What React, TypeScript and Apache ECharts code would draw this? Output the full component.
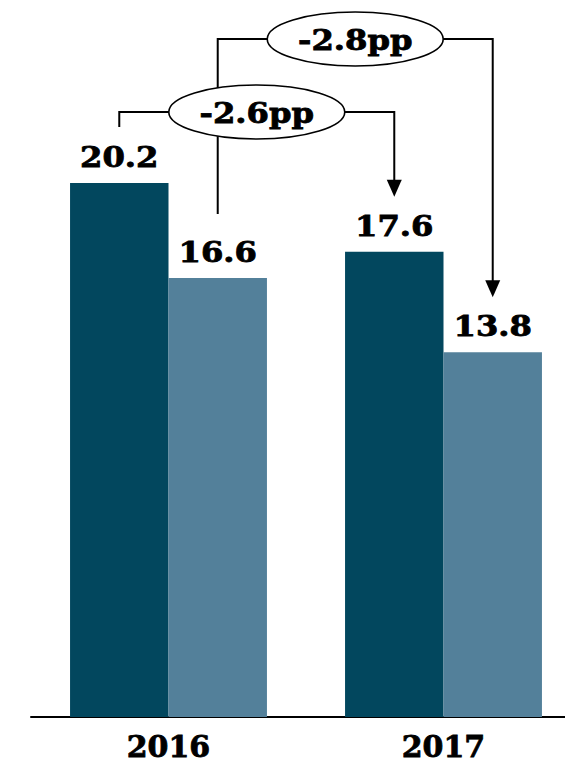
import React, { useEffect, useRef } from "react";
import * as echarts from "echarts";

// Years on the x axis and the two bar series
const years = ["2016", "2017"];
const darkValues = [20.2, 17.6];
const lightValues = [16.6, 13.8];

const DARK = "#02475e";
const LIGHT = "#53809a";
const FONT = "DejaVu Serif";

// Year-on-year change brackets: which series they join and where they run
const brackets = [
  { series: 0, level: 112, startGap: 56, endGap: 55 },
  { series: 1, level: 39, startGap: 64, endGap: 55 },
];
const seriesValues = [darkValues, lightValues];

export default function App() {
  const ref = useRef<HTMLDivElement>(null);

  useEffect(() => {
    if (!ref.current) return;
    const chart = echarts.init(ref.current, undefined, { renderer: "svg" });

    chart.setOption({
      animation: false,
      backgroundColor: "#fff",
      grid: {
        left: 31,
        width: 550,
        top: 56,
        bottom: 52,
        outerBoundsMode: "none",
        containLabel: false,
      },
      xAxis: {
        type: "category",
        data: years,
        axisLine: { lineStyle: { color: "#000", width: 2 } },
        axisTick: { show: false },
        axisLabel: {
          margin: 14,
          fontFamily: FONT,
          fontWeight: "bold",
          fontSize: 30,
          color: "#000",
          textBorderColor: "#000",
          textBorderWidth: 0.8,
        },
      },
      yAxis: { type: "value", min: 0, max: 25, show: false },
      series: [
        {
          type: "bar",
          data: darkValues,
          itemStyle: { color: DARK },
          barGap: "0%",
          barCategoryGap: "28.4%",
        },
        {
          type: "bar",
          data: lightValues,
          itemStyle: { color: LIGHT },
          barGap: "0%",
          barCategoryGap: "28.4%",
        },
      ],
    });

    // Value labels and change brackets are placed from the laid-out bars
    const model: any = (chart as any).getModel();
    const barBox = (s: number, i: number) => {
      const l = model.getSeriesByIndex(s).getData().getItemLayout(i);
      return { cx: l.x + l.width / 2, top: Math.min(l.y, l.y + l.height) };
    };

    const boldText = (x: number, y: number, text: string, z: number) => ({
      type: "text",
      x,
      y,
      scaleX: 1.15,
      style: {
        text,
        fontFamily: FONT,
        fontWeight: "bold",
        fontSize: 28,
        fill: "#000",
        stroke: "#000",
        lineWidth: 0.8,
        align: "center",
        verticalAlign: "middle",
      },
      z,
    });

    const valueLabels: any[] = [];
    seriesValues.forEach((vals, s) => {
      vals.forEach((v, i) => {
        const b = barBox(s, i);
        valueLabels.push(boldText(b.cx, b.top - 25.5, v.toFixed(1), 5));
      });
    });

    const lines: any[] = [];
    const tops: any[] = [];
    brackets.forEach((b) => {
      const vals = seriesValues[b.series];
      const a = barBox(b.series, 0);
      const c = barBox(b.series, 1);
      const tipY = c.top - b.endGap;
      const midX = (a.cx + c.cx) / 2;
      const diff = (vals[1] - vals[0]).toFixed(1);
      lines.push({
        type: "polyline",
        shape: {
          points: [
            [a.cx, a.top - b.startGap],
            [a.cx, b.level],
            [c.cx, b.level],
            [c.cx, tipY - 12],
          ],
        },
        style: { stroke: "#000", lineWidth: 2, fill: null },
        z: 10,
      });
      lines.push({
        type: "polygon",
        shape: {
          points: [
            [c.cx - 7.5, tipY - 17],
            [c.cx + 7.5, tipY - 17],
            [c.cx, tipY],
          ],
        },
        style: { fill: "#000" },
        z: 10,
      });
      tops.push({
        type: "ellipse",
        shape: { cx: midX, cy: b.level, rx: 88, ry: 27 },
        style: { fill: "#fff", stroke: "#000", lineWidth: 1.6 },
        z: 20,
      });
      tops.push(boldText(midX, b.level + 1, `${diff}pp`, 21));
    });

    chart.setOption({ graphic: [...valueLabels, ...lines, ...tops] });

    return () => chart.dispose();
  }, []);

  return (
    <div
      ref={ref}
      style={{ position: "absolute", left: 0, top: 0, width: 565, height: 769 }}
    />
  );
}
